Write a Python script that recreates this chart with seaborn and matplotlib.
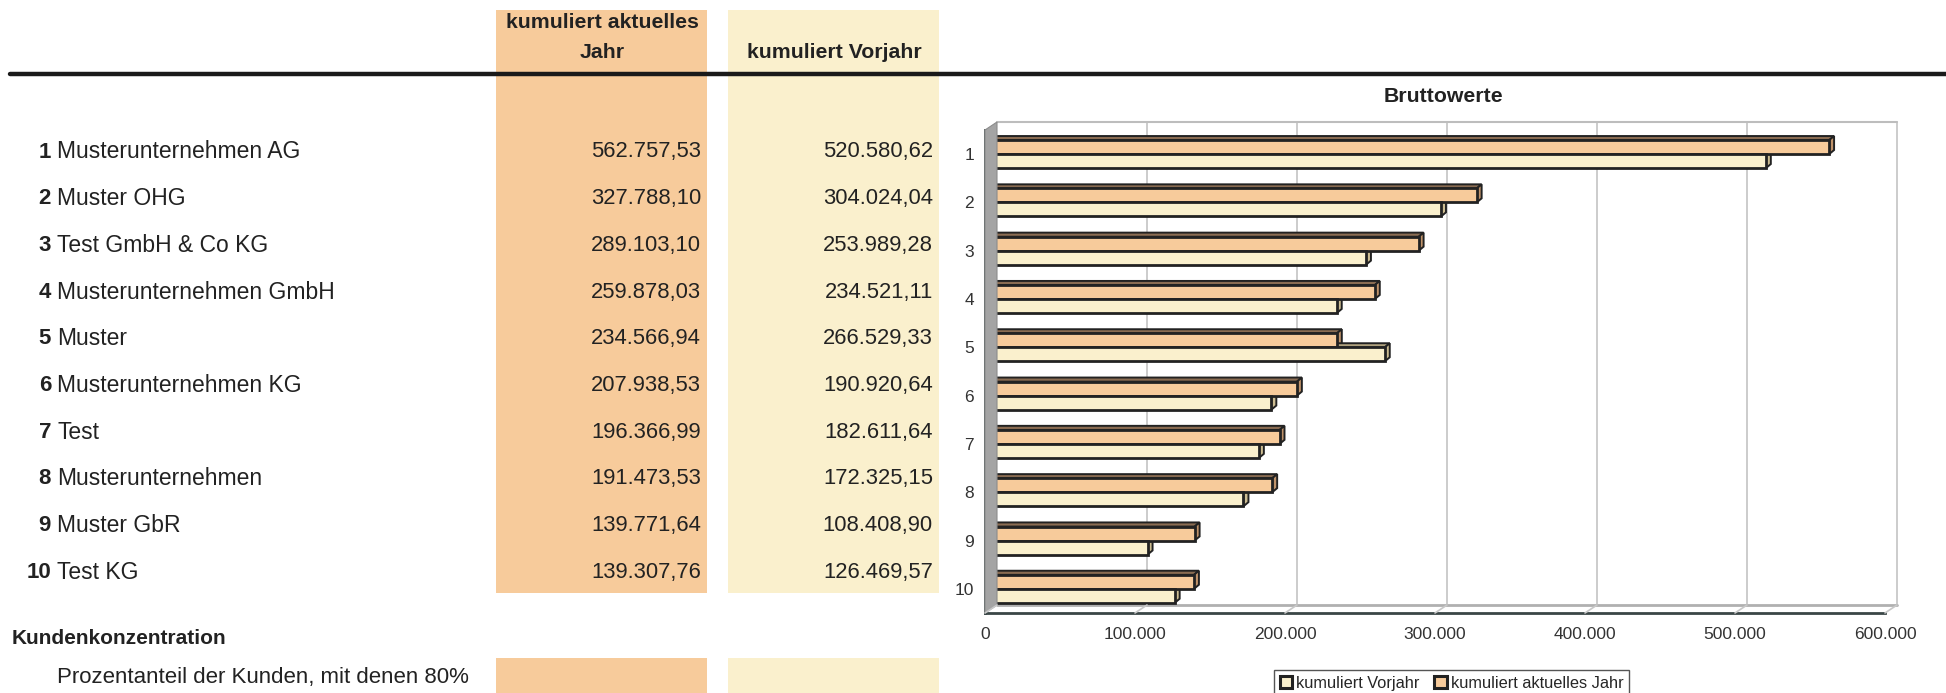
import numpy as np
import pandas as pd
import matplotlib
matplotlib.use("Agg")
import matplotlib.pyplot as plt
import matplotlib.transforms as mtransforms
from matplotlib.patches import Rectangle, Polygon, Patch
from matplotlib.lines import Line2D
import seaborn as sns

# data
ranks = ["1", "2", "3", "4", "5", "6", "7", "8", "9", "10"]
firmen = ["Musterunternehmen AG", "Muster OHG", "Test GmbH & Co KG", "Musterunternehmen GmbH",
          "Muster", "Musterunternehmen KG", "Test", "Musterunternehmen", "Muster GbR", "Test KG"]
aktuell = [562757.53, 327788.10, 289103.10, 259878.03, 234566.94,
           207938.53, 196366.99, 191473.53, 139771.64, 139307.76]
vorjahr = [520580.62, 304024.04, 253989.28, 234521.11, 266529.33,
           190920.64, 182611.64, 172325.15, 108408.90, 126469.57]
x_ticks = [0, 100000, 200000, 300000, 400000, 500000, 600000]

lbl_akt = "kumuliert aktuelles Jahr"
lbl_vj = "kumuliert Vorjahr"

ORANGE = "#F7CB9B"
YELLOW = "#FAF0CD"
EDGE = "#222222"
AXC = "#3a4646"

W, H = 1946, 693


def fx(px):
    return px / W


def fy(py):
    return 1 - py / H


def de(v, dec=2):
    s = f"{v:,.{dec}f}"
    return s.replace(",", "X").replace(".", ",").replace("X", ".")


sns.set_style("white")
plt.rcParams["font.family"] = ["Liberation Sans", "DejaVu Sans"]

fig = plt.figure(figsize=(W / 100, H / 100), dpi=100)

# ---- table on the left ----
for x0, x1, col in [(496, 707, ORANGE), (728, 939, YELLOW)]:
    fig.add_artist(Rectangle((fx(x0), fy(593)), fx(x1) - fx(x0), fy(10) - fy(593),
                             transform=fig.transFigure, color=col, lw=0, zorder=0))
    fig.add_artist(Rectangle((fx(x0), fy(693)), fx(x1) - fx(x0), fy(658) - fy(693),
                             transform=fig.transFigure, color=col, lw=0, zorder=0))

fig.add_artist(Line2D([fx(10), 1.0], [fy(74), fy(74)], transform=fig.transFigure,
                      color="#1a1a1a", lw=3.2))

fig.text(fx(602), fy(22), "kumuliert aktuelles", ha="center", va="center", fontsize=15.3, weight="bold",
         color="#222222")
fig.text(fx(602), fy(53), "Jahr", ha="center", va="center", fontsize=15.3, weight="bold", color="#222222")
fig.text(fx(834), fy(53), lbl_vj, ha="center", va="center", fontsize=15.3, weight="bold", color="#222222")

row_y = 152
row_step = 46.7
for i, (r, name) in enumerate(zip(ranks, firmen)):
    y = fy(row_y + i * row_step)
    fig.text(fx(51), y, r, ha="right", va="center", fontsize=16, weight="bold", color="#222222")
    fig.text(fx(57), y, name, ha="left", va="center", fontsize=16.5, color="#222222")
    fig.text(fx(701), y, de(aktuell[i]), ha="right", va="center", fontsize=15.8, color="#222222")
    fig.text(fx(933), y, de(vorjahr[i]), ha="right", va="center", fontsize=15.8, color="#222222")

fig.text(fx(12), fy(639), "Kundenkonzentration", ha="left", va="center", fontsize=15, weight="bold",
         color="#222222")
fig.text(fx(57), fy(677), "Prozentanteil der Kunden, mit denen 80%", ha="left", va="center",
         fontsize=16, color="#222222")

# ---- bar chart ----
ax = fig.add_axes([fx(985), fy(613), fx(1885) - fx(985), fy(130) - fy(613)])
ax.set_facecolor("none")

df = pd.DataFrame({
    "rang": ranks * 2,
    "wert": aktuell + vorjahr,
    "reihe": [lbl_akt] * len(ranks) + [lbl_vj] * len(ranks),
})
sns.barplot(data=df, y="rang", x="wert", hue="reihe", order=ranks, hue_order=[lbl_akt, lbl_vj],
            palette=[ORANGE, YELLOW], saturation=1, orient="h", width=0.58, edgecolor=EDGE,
            linewidth=2.0, legend=False, ax=ax, zorder=3)
ax.set_xlim(0, 600000)
ax.set_ylim(len(ranks) - 0.5, -0.5)

# 3D-Tiefe der Balken
dx, dy = 3300, 0.085
bars = list(ax.patches)
for p in bars:
    x0, y0 = p.get_x(), p.get_y()
    w, h = p.get_width(), p.get_height()
    is_akt = matplotlib.colors.to_hex(p.get_facecolor()).lower() == ORANGE.lower()
    top_c = "#8a6c52" if is_akt else "#b0a27e"
    side_c = "#c0936a" if is_akt else "#cdbd92"
    ax.add_patch(Polygon([(x0, y0), (x0 + w, y0), (x0 + w + dx, y0 - dy), (x0 + dx, y0 - dy)],
                         closed=True, fc=top_c, ec=EDGE, lw=1.4, zorder=2))
    ax.add_patch(Polygon([(x0 + w, y0), (x0 + w, y0 + h), (x0 + w + dx, y0 + h - dy), (x0 + w + dx, y0 - dy)],
                         closed=True, fc=side_c, ec=EDGE, lw=1.4, zorder=2))

# Rueckwand, Gitter und Seitenwand (3D-Optik)
off = mtransforms.ScaledTranslation(0.12, 0.08, fig.dpi_scale_trans)
blend = mtransforms.blended_transform_factory(ax.transData, ax.transAxes)
grid_c = "#c8c8c8"
for xv in x_ticks[1:]:
    ax.plot([xv, xv], [0, 1], transform=blend + off, color=grid_c, lw=1.3, zorder=0.5, clip_on=False)
for xv in x_ticks:
    # Diagonale vom Boden vorne nach hinten
    p0 = blend.transform((xv, 0))
    p1 = (blend + off).transform((xv, 0))
    fig.add_artist(Line2D([p0[0] / fig.bbox.width, p1[0] / fig.bbox.width],
                          [p0[1] / fig.bbox.height, p1[1] / fig.bbox.height],
                          transform=fig.transFigure, color=grid_c, lw=1.2, zorder=0.5))
ax.plot([0, 600000], [0, 0], transform=blend + off, color="#b0b0b0", lw=2, zorder=0.5, clip_on=False)
ax.plot([0, 600000], [1, 1], transform=blend + off, color="#bdbdbd", lw=1.5, zorder=0.5, clip_on=False)

# linke Seitenwand grau
c0 = blend.transform((0, 0))
c1 = blend.transform((0, 1))
b0 = (blend + off).transform((0, 0))
b1 = (blend + off).transform((0, 1))
pts = [c0, c1, b1, b0]
fig.add_artist(Polygon([(p[0] / fig.bbox.width, p[1] / fig.bbox.height) for p in pts], closed=True,
                       transform=fig.transFigure, fc="#a4a4a4", ec="#8c8c8c", lw=0.8, zorder=0.4))

# Achsen
for s in ["top", "right"]:
    ax.spines[s].set_visible(False)
for s in ["left", "bottom"]:
    ax.spines[s].set_color(AXC)
    ax.spines[s].set_linewidth(2.0)
    ax.spines[s].set_zorder(5)

ax.set_xticks(x_ticks)
ax.set_xticklabels([de(v, 0) for v in x_ticks])
ax.tick_params(axis="x", direction="out", length=6, width=2, color=AXC, labelsize=12.5, pad=4,
               labelcolor="#333333")
ax.set_yticks(range(len(ranks)))
ax.set_yticklabels(ranks)
ax.tick_params(axis="y", which="major", length=0, labelsize=12.5, pad=8, labelcolor="#333333")
ax.set_yticks(np.arange(len(ranks) + 1) - 0.5, minor=True)
ax.tick_params(axis="y", which="minor", direction="out", length=6, width=2, color=AXC)
ax.set_xlabel("")
ax.set_ylabel("")
ax.grid(False)

fig.text(fx(1443), fy(97), "Bruttowerte", ha="center", va="center", fontsize=15.3, weight="bold",
         color="#222222")

handles = [Patch(fc=YELLOW, ec=EDGE, lw=2.2, label=lbl_vj),
           Patch(fc=ORANGE, ec=EDGE, lw=2.2, label=lbl_akt)]
fig.legend(handles=handles, loc="upper left", bbox_to_anchor=(fx(1274), fy(670)), ncol=2,
           fontsize=11.8, frameon=True, fancybox=False, edgecolor="#555555", framealpha=1,
           handlelength=0.75, handleheight=0.75, handletextpad=0.25, columnspacing=0.9,
           borderpad=0.35, borderaxespad=0)

fig.savefig("out.png", dpi=100)
